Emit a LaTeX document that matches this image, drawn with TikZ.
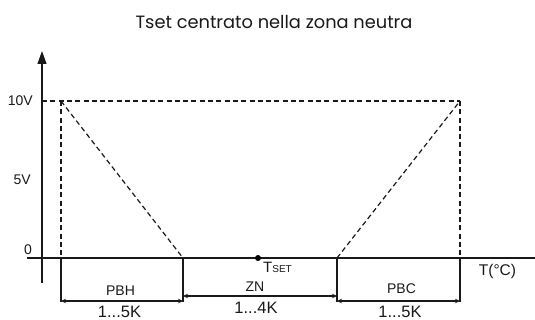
\documentclass[tikz,border=0pt]{standalone}
\usepackage{fontspec}
\setmainfont{Liberation Sans}
\newfontfamily\titlefont{Poppins}
\usetikzlibrary{arrows.meta}
\begin{document}
\begin{tikzpicture}[x=1pt,y=-1pt,
  axis/.style={line width=1.2pt,black!90},
  dsh/.style={line width=1.2pt,black!90,dash pattern=on 5pt off 3.3pt},
  dim/.style={line width=1.1pt,black!90,{Stealth[length=5pt,width=4.5pt]}-{Stealth[length=5pt,width=4.5pt]}},
  lbl/.style={inner sep=0pt,text=black!90,font=\fontsize{14}{14}\selectfont},
  big/.style={inner sep=0pt,text=black!90,font=\fontsize{16.5}{16.5}\selectfont}]
\useasboundingbox (0,0) rectangle (535,320);
% key points
\coordinate (ytop) at (42,51);
\coordinate (ybot) at (42,283);
\coordinate (xl) at (27,258);
\coordinate (xr) at (535,258);
\coordinate (y10) at (42,101);
\coordinate (A) at (61,101);
\coordinate (A0) at (61,258);
\coordinate (A1) at (61,302);
\coordinate (B) at (183,258);
\coordinate (B1) at (183,302);
\coordinate (C) at (337,258);
\coordinate (C1) at (337,302);
\coordinate (D) at (460,101);
\coordinate (D0) at (460,258);
\coordinate (D1) at (460,302);
% axes
\draw[axis,-{Triangle[length=13pt,width=9pt]}] (ybot) -- (ytop);
\draw[axis] (xl) -- (xr);
% dashed characteristic
\draw[dsh] (y10) -- (D);
\draw[dsh] (A) -- (A0);
\draw[dsh] (A) -- (B);
\draw[dsh] (C) -- (D);
\draw[dsh] (D) -- (D0);
% solid extension lines
\draw[axis] (A0) -- (A1);
\draw[axis] (B) -- (B1);
\draw[axis] (C) -- (C1);
\draw[axis] (D0) -- (D1);
% dimension arrows
\coordinate (pbhL) at (61,301);
\coordinate (pbhR) at (183,301);
\coordinate (znL) at (183,296);
\coordinate (znR) at (337,296);
\coordinate (pbcL) at (337,301);
\coordinate (pbcR) at (460,301);
\draw[dim] (pbhL) -- (pbhR);
\draw[dim] (znL) -- (znR);
\draw[dim] (pbcL) -- (pbcR);
% Tset point
\node[circle,fill=black,inner sep=0pt,minimum size=6pt] (tset) at (258,258) {};
\node[lbl,anchor=west,font=\fontsize{15}{15}\selectfont] (tsetl) at (263,267.5) {T{\fontsize{10}{10}\selectfont SET}};
% labels
\node[inner sep=0pt,text=black!90,font=\fontsize{17.8}{17.8}\selectfont\titlefont] (title) at (274,22) {Tset centrato nella zona neutra};
\node[lbl,anchor=east] (l10) at (33,101) {10V};
\node[lbl,anchor=east] (l5) at (31,180) {5V};
\node[lbl] (l0) at (28,250) {0};
\node[lbl] (pbh) at (120.5,290.5) {PBH};
\node[big] (pbhv) at (119.5,312.3) {1...5K};
\node[lbl] (zn) at (255,286.5) {ZN};
\node[big] (znv) at (256,308) {1...4K};
\node[lbl] (pbc) at (401.5,289) {PBC};
\node[big] (pbcv) at (400,312.3) {1...5K};
\node[lbl,font=\fontsize{15.5}{15.5}\selectfont] (tc) at (497.5,271.5) {T(°C)};
\end{tikzpicture}
\end{document}
